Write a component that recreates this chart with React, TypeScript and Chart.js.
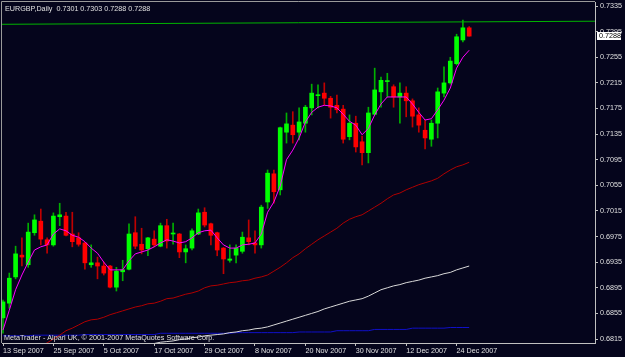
import React, { useEffect, useRef } from 'react';
import { Chart, registerables } from 'chart.js';

Chart.register(...registerables);

// ---------- data ----------
const symbolTitle = 'EURGBP,Daily';
const lastQuote = ['0.7301', '0.7303', '0.7288', '0.7288'];
const copyrightText = 'MetaTrader - Alpari UK, \u00a9 2001-2007 MetaQuotes Software Corp.';
const lastPrice = 0.7288;

const opens = [
  0.6848, 0.6871, 0.6912, 0.6946, 0.6931, 0.6981, 0.6999, 0.6970, 0.6962, 0.7006,
  0.7007, 0.6979, 0.6973, 0.6965, 0.6931, 0.6934, 0.6929, 0.6929, 0.6896, 0.6920,
  0.6924, 0.6981, 0.6963, 0.6956, 0.6971, 0.6960, 0.6992, 0.6979, 0.6979, 0.6951,
  0.6957, 0.6979, 0.7013, 0.6995, 0.6981, 0.6957, 0.6938, 0.6946, 0.6952, 0.6973,
  0.6965, 0.6962, 0.7029, 0.7073, 0.7048, 0.7138, 0.7149, 0.7138, 0.7152, 0.7176,
  0.7195, 0.7199, 0.7191, 0.7180, 0.7174, 0.7131, 0.7152, 0.7123, 0.7106, 0.7166,
  0.7201, 0.7217, 0.7209, 0.7193, 0.7199, 0.7187, 0.7165, 0.7141, 0.7127, 0.7152,
  0.7199, 0.7215, 0.7245, 0.7282, 0.7301,
];
const highs = [
  0.6876, 0.6918, 0.6960, 0.6973, 0.6996, 0.7009, 0.7018, 0.6973, 0.7012, 0.7027,
  0.7013, 0.7013, 0.6981, 0.6966, 0.6962, 0.6943, 0.6935, 0.6930, 0.6927, 0.6938,
  0.6995, 0.7006, 0.6988, 0.6974, 0.6984, 0.6996, 0.7002, 0.6996, 0.6980, 0.6962,
  0.6987, 0.7018, 0.7020, 0.6996, 0.6982, 0.6958, 0.6962, 0.6962, 0.6982, 0.7001,
  0.6984, 0.7024, 0.7079, 0.7079, 0.7146, 0.7168, 0.7170, 0.7176, 0.7180, 0.7213,
  0.7212, 0.7215, 0.7194, 0.7196, 0.7180, 0.7165, 0.7163, 0.7132, 0.7177, 0.7238,
  0.7224, 0.7230, 0.7212, 0.7215, 0.7209, 0.7190, 0.7176, 0.7157, 0.7157, 0.7207,
  0.7240, 0.7255, 0.7291, 0.7313, 0.7303,
];
const lows = [
  0.6824, 0.6863, 0.6909, 0.6929, 0.6927, 0.6977, 0.6962, 0.6949, 0.6960, 0.6992,
  0.6976, 0.6959, 0.6960, 0.6924, 0.6927, 0.6909, 0.6915, 0.6895, 0.6890, 0.6906,
  0.6923, 0.6956, 0.6948, 0.6945, 0.6959, 0.6959, 0.6957, 0.6963, 0.6942, 0.6934,
  0.6954, 0.6978, 0.6990, 0.6962, 0.6945, 0.6917, 0.6935, 0.6934, 0.6949, 0.6962,
  0.6949, 0.6957, 0.7019, 0.7027, 0.7040, 0.7121, 0.7121, 0.7126, 0.7138, 0.7165,
  0.7176, 0.7180, 0.7160, 0.7168, 0.7121, 0.7126, 0.7107, 0.7087, 0.7090, 0.7165,
  0.7177, 0.7193, 0.7177, 0.7152, 0.7162, 0.7146, 0.7138, 0.7112, 0.7116, 0.7129,
  0.7193, 0.7213, 0.7243, 0.7279, 0.7288,
];
const closes = [
  0.6873, 0.6910, 0.6948, 0.6943, 0.6982, 0.7001, 0.6971, 0.6962, 0.7007, 0.7009,
  0.6977, 0.6967, 0.6963, 0.6934, 0.6934, 0.6929, 0.6918, 0.6896, 0.6921, 0.6923,
  0.6979, 0.6960, 0.6954, 0.6973, 0.6962, 0.6992, 0.6968, 0.6980, 0.6951, 0.6956,
  0.6984, 0.7012, 0.6993, 0.6977, 0.6954, 0.6940, 0.6940, 0.6957, 0.6974, 0.6967,
  0.6962, 0.7021, 0.7074, 0.7045, 0.7145, 0.7151, 0.7134, 0.7154, 0.7177, 0.7199,
  0.7196, 0.7191, 0.7177, 0.7173, 0.7127, 0.7152, 0.7115, 0.7106, 0.7168, 0.7204,
  0.7219, 0.7218, 0.7193, 0.7199, 0.7187, 0.7163, 0.7149, 0.7129, 0.7152, 0.7201,
  0.7215, 0.7249, 0.7287, 0.7301, 0.7288,
];

// moving averages (null = below the visible range)
const maMagenta = [
  0.6829, 0.6860, 0.6892, 0.6915, 0.6935, 0.6954, 0.6959, 0.6962, 0.6979, 0.6987,
  0.6984, 0.6977, 0.6974, 0.6967, 0.6957, 0.6949, 0.6935, 0.6923, 0.6923, 0.6923,
  0.6937, 0.6948, 0.6951, 0.6954, 0.6959, 0.6965, 0.6970, 0.6968, 0.6965, 0.6967,
  0.6973, 0.6981, 0.6984, 0.6985, 0.6973, 0.6962, 0.6957, 0.6957, 0.6962, 0.6963,
  0.6965, 0.6979, 0.7013, 0.7029, 0.7054, 0.7095, 0.7110, 0.7129, 0.7154, 0.7169,
  0.7177, 0.7180, 0.7179, 0.7176, 0.7166, 0.7155, 0.7149, 0.7134, 0.7144, 0.7165,
  0.7182, 0.7193, 0.7193, 0.7193, 0.7193, 0.7182, 0.7169, 0.7157, 0.7159, 0.7173,
  0.7188, 0.7207, 0.7238, 0.7255, 0.7266,
];
const maRed = [
  null, null, null, null, null, null, 0.6804, 0.6809, 0.6815, 0.6821,
  0.6828, 0.6832, 0.6837, 0.6842, 0.6845, 0.6846, 0.6849, 0.6853, 0.6856, 0.6859,
  0.6862, 0.6865, 0.6867, 0.6870, 0.6871, 0.6874, 0.6878, 0.6879, 0.6882, 0.6885,
  0.6887, 0.6890, 0.6895, 0.6898, 0.6899, 0.6901, 0.6903, 0.6904, 0.6906, 0.6907,
  0.6910, 0.6912, 0.6915, 0.6921, 0.6927, 0.6934, 0.6942, 0.6948, 0.6956, 0.6963,
  0.6970, 0.6976, 0.6982, 0.6988, 0.6996, 0.7002, 0.7006, 0.7009, 0.7015, 0.7021,
  0.7027, 0.7034, 0.7040, 0.7043, 0.7048, 0.7052, 0.7056, 0.7059, 0.7062, 0.7066,
  0.7073, 0.7079, 0.7084, 0.7087, 0.7091,
];
const maWhite = [
  null, null, null, null, null, null, null, null, null, null,
  null, null, null, null, null, null, null, null, null, null,
  null, null, null, 0.6807, 0.6808, 0.6810, 0.6811, 0.6812, 0.6814, 0.6815,
  0.6817, 0.6818, 0.6820, 0.6821, 0.6822, 0.6823, 0.6825, 0.6826, 0.6828, 0.6829,
  0.6831, 0.6832, 0.6834, 0.6837, 0.6840, 0.6843, 0.6846, 0.6849, 0.6852, 0.6855,
  0.6858, 0.6862, 0.6865, 0.6868, 0.6871, 0.6874, 0.6876, 0.6878, 0.6882, 0.6887,
  0.6892, 0.6895, 0.6898, 0.6900, 0.6903, 0.6905, 0.6907, 0.6910, 0.6912, 0.6914,
  0.6917, 0.6919, 0.6923, 0.6926, 0.6929,
];
const maBlue = [
  0.6820, 0.6820, 0.6820, 0.6820, 0.6820, 0.6821, 0.6821, 0.6821, 0.6821, 0.6821,
  0.6821, 0.6821, 0.6821, 0.6822, 0.6822, 0.6822, 0.6822, 0.6822, 0.6822, 0.6822,
  0.6822, 0.6822, 0.6822, 0.6822, 0.6822, 0.6824, 0.6824, 0.6824, 0.6824, 0.6824,
  0.6824, 0.6824, 0.6824, 0.6824, 0.6824, 0.6824, 0.6824, 0.6825, 0.6825, 0.6825,
  0.6825, 0.6825, 0.6825, 0.6825, 0.6825, 0.6825, 0.6825, 0.6826, 0.6826, 0.6826,
  0.6826, 0.6826, 0.6826, 0.6828, 0.6828, 0.6828, 0.6828, 0.6828, 0.6828, 0.6830,
  0.6830, 0.6830, 0.6830, 0.6830, 0.6830, 0.6832, 0.6832, 0.6832, 0.6832, 0.6832,
  0.6832, 0.6833, 0.6833, 0.6833, 0.6833,
];
const trendLine = [0.73065, 0.73113];

const xTickBars = [0, 8, 16, 24, 32, 40, 48, 56, 64, 72];
const xTickLabels = [
  '13 Sep 2007', '25 Sep 2007', '5 Oct 2007', '17 Oct 2007', '29 Oct 2007',
  '8 Nov 2007', '20 Nov 2007', '30 Nov 2007', '12 Dec 2007', '24 Dec 2007',
];
const yTickValues = [
  0.6815, 0.6855, 0.6895, 0.6935, 0.6975, 0.7015, 0.7055,
  0.7095, 0.7135, 0.7175, 0.7215, 0.7255, 0.7295, 0.7335,
];

// ---------- layout / style ----------
const X_MIN = -0.159;
const X_MAX = 93.97;
const Y_MIN = 0.68088;
const Y_MAX = 0.73413;
const BG = '#05051c';
const AXIS = '#c0c0c0';
const TEXT = '#e0e0e0';
const FONT = "'Liberation Sans', Arial, sans-serif";
const UP = '#00ff00';
const DOWN = '#ff0000';
const UP_WICK = '#00b000';
const DOWN_WICK = '#c00000';

const mtPlugin = {
  id: 'mtDecor',
  beforeDraw(chart: any) {
    const { ctx, width, height } = chart;
    ctx.save();
    ctx.fillStyle = BG;
    ctx.fillRect(0, 0, width, height);
    ctx.restore();
  },
  afterDraw(chart: any) {
    const { ctx, chartArea: a, scales } = chart;
    ctx.save();
    ctx.strokeStyle = '#9a9a9a';
    ctx.lineWidth = 1;
    ctx.beginPath();
    ctx.moveTo(1.5, a.bottom);
    ctx.lineTo(1.5, 1.5);
    ctx.lineTo(a.right, 1.5);
    ctx.stroke();

    ctx.font = `7.2px ${FONT}`;
    ctx.fillStyle = TEXT;
    ctx.textAlign = 'left';
    ctx.textBaseline = 'alphabetic';
    ctx.fillText(symbolTitle + '  ' + lastQuote.join(' '), 5, 10.5);
    ctx.fillText(copyrightText, 4, 340);

    const y = scales.y.getPixelForValue(lastPrice);
    ctx.fillStyle = '#ffffff';
    ctx.fillRect(a.right + 2, Math.round(y) - 4, 24, 8);
    ctx.fillStyle = '#000000';
    ctx.textBaseline = 'middle';
    ctx.fillText(lastPrice.toFixed(4), a.right + 4, Math.round(y));
    ctx.restore();
  },
};

export default function App() {
  const ref = useRef<HTMLCanvasElement | null>(null);

  useEffect(() => {
    if (!ref.current) return;
    const idx = opens.map((_, i) => i);
    const isUp = (i: number) => closes[i] >= opens[i];
    const lineData = (arr: (number | null)[]) =>
      arr.map((v, i) => ({ x: i, y: v === null ? NaN : v }));

    const lineDs = (label: string, arr: (number | null)[], color: string) => ({
      type: 'line' as const,
      label,
      data: lineData(arr),
      borderColor: color,
      borderWidth: 1,
      pointRadius: 0,
      tension: 0,
      spanGaps: false,
      order: 0,
    });

    const chart = new Chart(ref.current, {
      type: 'bar',
      data: {
        datasets: [
          lineDs('MA fast', maMagenta, '#ff00ff'),
          lineDs('MA red', maRed, '#b00000'),
          lineDs('MA white', maWhite, '#d8d8d8'),
          lineDs('MA blue', maBlue, '#1010c8'),
          {
            type: 'line' as const,
            label: 'trend',
            data: [
              { x: X_MIN, y: trendLine[0] },
              { x: X_MAX, y: trendLine[1] },
            ],
            borderColor: '#00b400',
            borderWidth: 1,
            pointRadius: 0,
            order: 0,
          },
          {
            type: 'bar' as const,
            label: 'body',
            data: idx.map((i) => ({ x: i, y: [opens[i], closes[i]] })) as any,
            backgroundColor: (c: any) => (isUp(c.dataIndex) ? UP : DOWN),
            borderWidth: 0,
            barThickness: 4,
            minBarLength: 1,
            grouped: false,
            order: 1,
          },
          {
            type: 'bar' as const,
            label: 'wick',
            data: idx.map((i) => ({ x: i, y: [lows[i], highs[i]] })) as any,
            backgroundColor: (c: any) => (isUp(c.dataIndex) ? UP_WICK : DOWN_WICK),
            borderWidth: 0,
            barThickness: 1,
            grouped: false,
            order: 2,
          },
        ],
      },
      options: {
        responsive: false,
        animation: false,
        devicePixelRatio: 1,
        events: [],
        layout: { padding: { left: 2, top: 2, right: 0, bottom: 0 } },
        plugins: {
          legend: { display: false },
          tooltip: { enabled: false },
          title: { display: false },
        },
        scales: {
          x: {
            type: 'linear',
            min: X_MIN,
            max: X_MAX,
            offset: false,
            afterBuildTicks: (s: any) => {
              s.ticks = xTickBars.map((v) => ({ value: v }));
            },
            afterFit: (s: any) => {
              s.height = 14;
              s.paddingLeft = 0;
              s.paddingRight = 0;
            },
            ticks: {
              autoSkip: false,
              maxRotation: 0,
              minRotation: 0,
              align: 'start',
              padding: 1,
              color: TEXT,
              font: { family: FONT, size: 7.2 },
              callback: (v: any) => {
                const k = xTickBars.indexOf(Number(v));
                return k >= 0 ? xTickLabels[k] : '';
              },
            },
            grid: {
              display: true,
              drawOnChartArea: false,
              drawTicks: true,
              tickLength: 3,
              color: AXIS,
              offset: false,
            },
            border: { display: true, color: AXIS, width: 1 },
          },
          y: {
            type: 'linear',
            position: 'right',
            min: Y_MIN,
            max: Y_MAX,
            afterBuildTicks: (s: any) => {
              s.ticks = yTickValues.map((v) => ({ value: v }));
            },
            afterFit: (s: any) => {
              s.width = 30;
              s.paddingTop = 0;
              s.paddingBottom = 0;
            },
            ticks: {
              padding: 2,
              color: TEXT,
              font: { family: FONT, size: 7.2 },
              callback: (v: any) => Number(v).toFixed(4),
            },
            grid: {
              display: true,
              drawOnChartArea: false,
              drawTicks: true,
              tickLength: 3,
              color: AXIS,
            },
            border: { display: true, color: AXIS, width: 1 },
          },
        },
      },
      plugins: [mtPlugin],
    });
    return () => chart.destroy();
  }, []);

  return (
    <div
      style={{
        position: 'fixed',
        left: 0,
        top: 0,
        width: 625,
        height: 357,
        background: BG,
      }}
    >
      <canvas ref={ref} width={625} height={357} style={{ display: 'block' }} />
    </div>
  );
}
